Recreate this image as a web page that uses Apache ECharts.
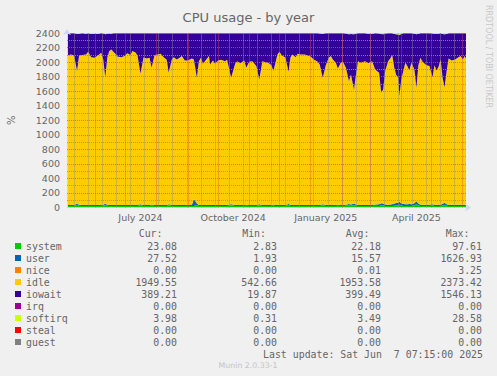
<!DOCTYPE html>
<html>
<head>
<meta charset="utf-8">
<title>CPU usage - by year</title>
<script src="https://cdn.jsdelivr.net/npm/echarts@6/dist/echarts.min.js"></script>
<style>
  html, body { margin: 0; padding: 0; background: #f0f0f0; }
  #chart { width: 497px; height: 376px; }
</style>
</head>
<body>
<div id="chart"></div>
<script>
const dates = [
  '2024-05-04','2024-05-08','2024-05-11','2024-05-14','2024-05-16','2024-05-19','2024-05-23','2024-05-25','2024-05-28','2024-05-31',
  '2024-06-03','2024-06-07','2024-06-09','2024-06-11','2024-06-13','2024-06-15','2024-06-17','2024-06-19','2024-06-21','2024-06-23',
  '2024-06-27','2024-06-30','2024-07-03','2024-07-06','2024-07-08','2024-07-11','2024-07-13','2024-07-16','2024-07-19','2024-07-22',
  '2024-07-25','2024-07-27','2024-07-30','2024-08-02','2024-08-05','2024-08-08','2024-08-11','2024-08-13','2024-08-16','2024-08-18',
  '2024-08-21','2024-08-24','2024-08-26','2024-08-29','2024-09-01','2024-09-05','2024-09-07','2024-09-10','2024-09-12','2024-09-14',
  '2024-09-16','2024-09-18','2024-09-22','2024-09-23','2024-09-26','2024-09-28','2024-10-01','2024-10-04','2024-10-08','2024-10-10',
  '2024-10-14','2024-10-18','2024-10-20','2024-10-23','2024-10-27','2024-10-29','2024-11-01','2024-11-04','2024-11-08','2024-11-11',
  '2024-11-14','2024-11-18','2024-11-20','2024-11-23','2024-11-25','2024-11-27','2024-11-29','2024-12-01','2024-12-03','2024-12-07',
  '2024-12-10','2024-12-12','2024-12-14','2024-12-17','2024-12-19','2024-12-22','2024-12-26','2024-12-29','2025-01-01','2025-01-04',
  '2025-01-08','2025-01-10','2025-01-13','2025-01-16','2025-01-19','2025-01-21','2025-01-23','2025-01-26','2025-01-28','2025-01-31',
  '2025-02-02','2025-02-05','2025-02-08','2025-02-10','2025-02-13','2025-02-15','2025-02-17','2025-02-20','2025-02-24','2025-02-27',
  '2025-03-03','2025-03-06','2025-03-10','2025-03-12','2025-03-14','2025-03-16','2025-03-19','2025-03-21','2025-03-23','2025-03-25',
  '2025-03-27','2025-03-29','2025-03-30','2025-04-01','2025-04-03','2025-04-05','2025-04-07','2025-04-09','2025-04-11','2025-04-14',
  '2025-04-16','2025-04-18','2025-04-20','2025-04-22','2025-04-26','2025-04-29','2025-05-02','2025-05-04','2025-05-06','2025-05-08',
  '2025-05-10','2025-05-12','2025-05-14','2025-05-16','2025-05-18','2025-05-21','2025-05-24','2025-05-27','2025-05-30','2025-06-01',
  '2025-06-03','2025-06-05'
];

const system = [
  21, 21, 21, 38, 24, 21, 21, 21, 21, 21,
  21, 21, 24, 36, 24, 21, 21, 21, 21, 21,
  21, 21, 21, 21, 21, 21, 21, 32, 21, 21,
  21, 28, 21, 21, 21, 21, 21, 30, 21, 21,
  21, 21, 21, 21, 21, 21, 21, 36, 21, 21,
  21, 21, 21, 21, 21, 21, 21, 21, 21, 21,
  30, 21, 21, 21, 21, 24, 21, 21, 21, 30,
  21, 21, 21, 21, 28, 21, 21, 21, 21, 21,
  34, 21, 21, 21, 21, 21, 21, 21, 21, 21,
  21, 21, 30, 21, 21, 21, 21, 21, 24, 21,
  21, 24, 30, 24, 33, 24, 21, 21, 21, 21,
  21, 24, 21, 30, 28, 21, 21, 21, 21, 24,
  28, 30, 40, 26, 21, 21, 21, 21, 21, 28,
  45, 26, 21, 21, 21, 21, 28, 21, 21, 21,
  21, 28, 32, 24, 21, 21, 21, 21, 21, 21,
  21, 21
];

const user = [
  14, 14, 14, 14, 14, 14, 14, 14, 14, 14,
  14, 14, 14, 14, 14, 14, 14, 14, 14, 14,
  14, 14, 14, 14, 14, 14, 14, 14, 14, 14,
  14, 14, 14, 14, 14, 14, 14, 14, 14, 14,
  14, 14, 14, 14, 14, 14, 95, 20, 14, 14,
  14, 14, 14, 14, 14, 14, 14, 14, 14, 14,
  14, 14, 14, 14, 14, 14, 14, 14, 14, 14,
  14, 14, 14, 14, 14, 14, 14, 14, 14, 14,
  14, 14, 14, 14, 14, 14, 14, 14, 14, 14,
  14, 14, 14, 14, 14, 14, 14, 14, 14, 14,
  14, 14, 18, 16, 18, 16, 14, 14, 14, 14,
  14, 16, 22, 30, 26, 20, 18, 20, 24, 30,
  34, 36, 40, 32, 26, 24, 22, 26, 24, 30,
  42, 28, 18, 16, 16, 16, 18, 16, 16, 16,
  18, 24, 32, 20, 16, 16, 16, 16, 16, 16,
  16, 16
];

const idle = [
  2054, 2070, 2056, 1824, 2051, 2061, 2070, 2107, 2033, 2024,
  2047, 2093, 1998, 1743, 2021, 2116, 2139, 2107, 2079, 2042,
  2033, 2047, 2088, 2061, 2116, 2098, 2054, 1793, 2033, 2015,
  2024, 1879, 2061, 2070, 2079, 2033, 1997, 1809, 1997, 2033,
  2001, 2024, 2047, 1987, 1987, 2015, 1920, 1728, 1978, 2024,
  1941, 1978, 2047, 1932, 1987, 1941, 1987, 1997, 1978, 1997,
  1740, 1941, 1978, 1950, 1987, 1883, 1969, 1978, 1910, 1717,
  1978, 1960, 1955, 1923, 1834, 1955, 2070, 2107, 2061, 2024,
  1819, 2033, 2070, 2033, 2079, 2070, 2070, 2054, 2042, 2001,
  1969, 1932, 1740, 1923, 2024, 2047, 2001, 1955, 1874, 1960,
  1969, 1883, 1690, 1790, 1567, 1790, 1978, 1955, 1978, 1950,
  1978, 1858, 1810, 1517, 1569, 1835, 1974, 2009, 2051, 1867,
  1759, 1718, 1451, 1703, 1829, 1945, 1902, 1838, 1945, 1840,
  1559, 1904, 2020, 1967, 1921, 1908, 1747, 1921, 1848, 1898,
  1997, 1732, 1591, 1832, 2013, 1985, 1995, 2022, 2045, 1999,
  2045, 1985
];

const iowait = [
  307, 291, 305, 509, 301, 300, 283, 254, 318, 326,
  304, 268, 356, 589, 331, 241, 214, 254, 282, 319,
  328, 314, 273, 300, 245, 263, 307, 557, 328, 346,
  337, 475, 300, 291, 282, 328, 364, 543, 364, 328,
  360, 337, 314, 374, 374, 346, 360, 612, 383, 337,
  420, 383, 314, 429, 374, 420, 374, 364, 383, 364,
  612, 420, 383, 411, 374, 475, 392, 383, 451, 635,
  383, 401, 406, 438, 520, 406, 291, 254, 300, 337,
  529, 328, 291, 328, 282, 291, 291, 307, 319, 360,
  392, 427, 604, 438, 337, 314, 360, 406, 484, 401,
  392, 473, 646, 556, 764, 558, 383, 406, 383, 405,
  375, 498, 541, 808, 761, 516, 383, 346, 300, 464,
  561, 596, 841, 625, 520, 406, 451, 511, 406, 490,
  738, 430, 337, 392, 438, 451, 601, 430, 503, 455,
  360, 602, 729, 510, 346, 374, 364, 337, 314, 360,
  314, 374
];

const softirq = [
  4, 4, 4, 15, 10, 4, 12, 4, 14, 15,
  14, 4, 8, 18, 10, 8, 12, 4, 4, 4,
  4, 4, 4, 4, 4, 4, 4, 4, 4, 4,
  4, 4, 4, 4, 4, 4, 4, 4, 4, 4,
  4, 4, 4, 4, 4, 4, 4, 4, 4, 4,
  4, 4, 4, 4, 4, 4, 4, 4, 4, 4,
  4, 4, 4, 4, 4, 4, 4, 4, 4, 4,
  4, 4, 4, 4, 4, 4, 4, 4, 4, 4,
  4, 4, 4, 4, 4, 4, 4, 4, 4, 4,
  4, 6, 12, 4, 4, 4, 4, 4, 4, 4,
  4, 6, 16, 14, 18, 12, 4, 4, 4, 10,
  12, 4, 6, 15, 16, 8, 4, 4, 4, 15,
  18, 20, 28, 14, 4, 4, 4, 4, 4, 12,
  16, 12, 4, 4, 4, 4, 6, 12, 12, 10,
  4, 14, 16, 14, 4, 4, 4, 4, 4, 4,
  4, 4
];

// legend table
const names = ['system', 'user', 'nice', 'idle', 'iowait', 'irq', 'softirq', 'steal', 'guest'];
const colors = ['#00cc00', '#0066b3', '#ff8000', '#ffcc00', '#330099', '#990099', '#ccff00', '#ff0000', '#808080'];
const statCur = ['23.08', '27.52', '0.00', '1949.55', '389.21', '0.00', '3.98', '0.00', '0.00'];
const statMin = ['2.83', '1.93', '0.00', '542.66', '19.87', '0.00', '0.31', '0.00', '0.00'];
const statAvg = ['22.18', '15.57', '0.01', '1953.58', '399.49', '0.00', '3.49', '0.00', '0.00'];
const statMax = ['97.61', '1626.93', '3.25', '2373.42', '1546.13', '0.00', '28.58', '0.00', '0.00'];

// x axis: month labels (centred mid-month), month grid and 2-weekly grid
const labelDates = ['2024-07-16', '2024-10-16', '2025-01-16', '2025-04-16'];
const labelTexts = ['July 2024', 'October 2024', 'January 2025', 'April 2025'];
const monthLines = [
  '2024-06-01', '2024-07-01', '2024-08-01', '2024-09-01', '2024-10-01', '2024-11-01', '2024-12-01',
  '2025-01-01', '2025-02-01', '2025-03-01', '2025-04-01', '2025-05-01', '2025-06-01'
];
const weekLines = [
  '2024-05-11', '2024-05-25', '2024-06-08', '2024-06-22', '2024-07-06', '2024-07-20', '2024-08-03',
  '2024-08-17', '2024-08-31', '2024-09-14', '2024-09-28', '2024-10-12', '2024-10-26', '2024-11-09',
  '2024-11-23', '2024-12-07', '2024-12-21', '2025-01-04', '2025-01-18', '2025-02-01', '2025-02-15',
  '2025-03-01', '2025-03-15', '2025-03-29', '2025-04-12', '2025-04-26', '2025-05-10', '2025-05-24'
];
// y grid: major lines at labels, minor lines in between
const yMajor = [200, 400, 600, 800, 1000, 1200, 1400, 1600, 1800, 2000, 2200];
const yMinor = [100, 300, 500, 700, 900, 1100, 1300, 1500, 1700, 1900, 2100, 2300];

const ts = s => Date.parse(s + 'T00:00:00Z');
const pairs = vals => dates.map((d, i) => [ts(d), vals[i]]);
const labelTs = labelDates.map(ts);
const xMin = Date.parse('2024-05-04T00:00:00Z');
const xMax = Date.parse('2025-06-04T06:00:00Z');

const FONT = 'DejaVu Sans';
const MONO = 'DejaVu Sans Mono';
const TXT = '#666666';
const MGRID = 'rgba(222,79,79,0.75)';
const GRID = 'rgba(143,143,143,0.85)';
const AXIS = '#cfd6f8';

const values = { system, user, idle, iowait, softirq };

// grid lines drawn over the areas, like rrdtool does
const gridMarks = []
  .concat(yMinor.map(v => ({ yAxis: v, lineStyle: { color: GRID } })))
  .concat(weekLines.map(d => ({ xAxis: ts(d), lineStyle: { color: GRID } })))
  .concat(yMajor.map(v => ({ yAxis: v, lineStyle: { color: MGRID } })))
  .concat(monthLines.map(d => ({ xAxis: ts(d), lineStyle: { color: MGRID } })));

const series = names.map((name, i) => {
  const vals = values[name];
  const s = {
    name,
    type: 'line',
    xAxisIndex: 0,
    data: vals ? pairs(vals) : [],
    symbol: 'none',
    silent: true,
    lineStyle: { width: 0 },
    itemStyle: { color: colors[i] },
    areaStyle: { color: colors[i], opacity: 1 },
    emphasis: { disabled: true }
  };
  // the all-zero series (nice, irq, steal, guest) are left out of the stack
  if (vals) s.stack = 'cpu';
  if (name === 'softirq') {
    s.markLine = {
      silent: true,
      symbol: ['none', 'none'],
      label: { show: false },
      animation: false,
      emphasis: { disabled: true },
      lineStyle: { color: GRID, type: [1, 1], width: 1 },
      data: gridMarks
    };
  }
  return s;
});

const chart = echarts.init(document.getElementById('chart'), null, { renderer: 'svg' });

chart.setOption({
  backgroundColor: '#f0f0f0',
  animation: false,
  title: {
    text: 'CPU usage - by year',
    left: 'center',
    top: 6,
    textStyle: { fontFamily: FONT, fontSize: 13, fontWeight: 'normal', color: TXT }
  },
  grid: {
    left: 67,
    right: 31,
    top: 33,
    bottom: 168.5,
    outerBoundsMode: 'none',
    containLabel: false,
    show: true,
    backgroundColor: '#ffffff',
    borderWidth: 0
  },
  xAxis: [
    {
      // time axis carrying the data
      type: 'time',
      min: xMin,
      max: xMax,
      z: 3,
      axisLine: {
        show: true,
        lineStyle: { color: AXIS },
        symbol: ['none', 'arrow'],
        symbolSize: [6, 6],
        symbolOffset: [0, 5]
      },
      axisTick: { show: false },
      splitLine: { show: false },
      axisLabel: { show: false }
    },
    {
      // same range, only for the month names
      type: 'value',
      position: 'bottom',
      min: xMin,
      max: xMax,
      axisLine: { show: false },
      axisTick: { show: false },
      splitLine: { show: false },
      axisLabel: {
        customValues: labelTs,
        formatter: v => labelTexts[labelTs.indexOf(v)] || '',
        color: TXT,
        fontFamily: FONT,
        fontSize: 9.5,
        margin: 5
      }
    }
  ],
  yAxis: {
    type: 'value',
    min: 0,
    max: 2400,
    interval: 200,
    z: 3,
    name: '%',
    nameLocation: 'middle',
    nameGap: 51,
    nameRotate: 90,
    nameTextStyle: { fontFamily: FONT, fontSize: 10, color: TXT },
    axisLine: {
      show: true,
      lineStyle: { color: AXIS },
      symbol: ['none', 'arrow'],
      symbolSize: [6, 6],
      symbolOffset: [0, 4]
    },
    axisTick: { show: false },
    axisLabel: { color: TXT, fontFamily: FONT, fontSize: 9.5, margin: 7, formatter: v => String(v) },
    splitLine: { show: false }
  },
  legend: {
    orient: 'vertical',
    left: 15,
    top: 240,
    padding: 0,
    itemGap: 0,
    itemWidth: 6,
    itemHeight: 6,
    icon: 'rect',
    selectedMode: false,
    data: names,
    textStyle: {
      fontFamily: MONO, fontSize: 9.9, color: TXT, lineHeight: 12,
      rich: {
        n: { width: 100, align: 'left', fontFamily: MONO, fontSize: 9.9, color: TXT, lineHeight: 12 },
        c: { width: 51, align: 'right', fontFamily: MONO, fontSize: 9.9, color: TXT, lineHeight: 12 },
        m: { width: 100, align: 'right', fontFamily: MONO, fontSize: 9.9, color: TXT, lineHeight: 12 },
        a: { width: 104, align: 'right', fontFamily: MONO, fontSize: 9.9, color: TXT, lineHeight: 12 },
        x: { width: 101, align: 'right', fontFamily: MONO, fontSize: 9.9, color: TXT, lineHeight: 12 }
      }
    },
    formatter: name => {
      const i = names.indexOf(name);
      return '{n|' + name + '}{c|' + statCur[i] + '}{m|' + statMin[i] + '}{a|' + statAvg[i] + '}{x|' + statMax[i] + '}';
    }
  },
  graphic: [
    { type: 'text', x: 162.5, y: 233.5, style: { text: 'Cur:', font: '9.9px "DejaVu Sans Mono"', fill: TXT, textAlign: 'right', textVerticalAlign: 'middle' } },
    { type: 'text', x: 266, y: 233.5, style: { text: 'Min:', font: '9.9px "DejaVu Sans Mono"', fill: TXT, textAlign: 'right', textVerticalAlign: 'middle' } },
    { type: 'text', x: 369.5, y: 233.5, style: { text: 'Avg:', font: '9.9px "DejaVu Sans Mono"', fill: TXT, textAlign: 'right', textVerticalAlign: 'middle' } },
    { type: 'text', x: 469.5, y: 233.5, style: { text: 'Max:', font: '9.9px "DejaVu Sans Mono"', fill: TXT, textAlign: 'right', textVerticalAlign: 'middle' } },
    { type: 'text', x: 483, y: 354.5, style: { text: 'Last update: Sat Jun  7 07:15:00 2025', font: '9.9px "DejaVu Sans Mono"', fill: TXT, textAlign: 'right', textVerticalAlign: 'middle' } },
    { type: 'text', x: 248, y: 365.5, style: { text: 'Munin 2.0.33-1', font: '7.8px "DejaVu Sans"', fill: '#c4c4c4', textAlign: 'center', textVerticalAlign: 'middle' } },
    { type: 'text', x: 488.5, y: 5, rotation: -Math.PI / 2, style: { text: 'RRDTOOL / TOBI OETIKER', font: '8px "DejaVu Sans"', fill: '#c8c8c8', textAlign: 'left', textVerticalAlign: 'middle' } }
  ],
  series
});
</script>
</body>
</html>
